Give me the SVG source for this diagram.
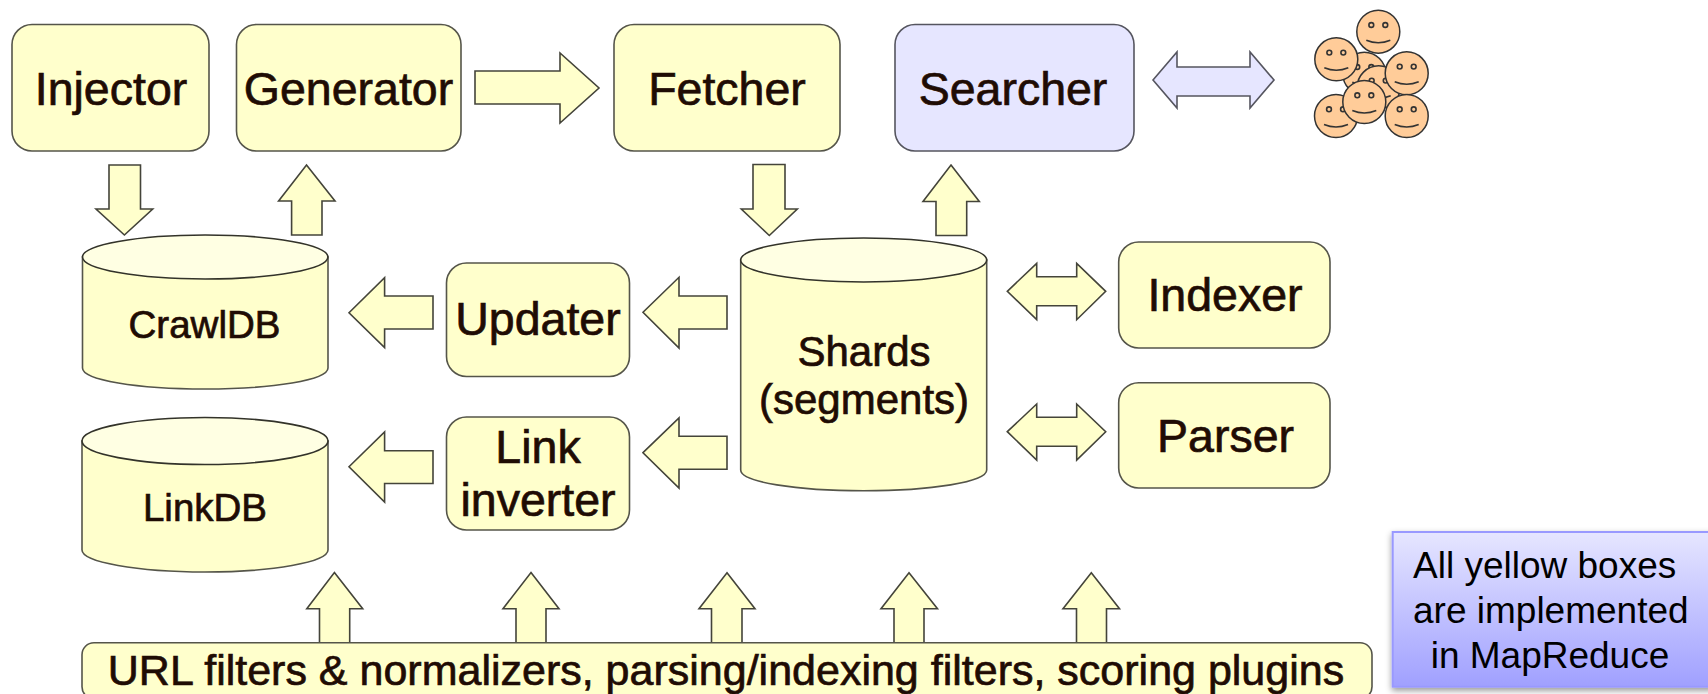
<svg xmlns="http://www.w3.org/2000/svg" xmlns:xlink="http://www.w3.org/1999/xlink" width="1708" height="694" viewBox="0 0 1708 694">
<style>
text{font-family:"Liberation Sans",Arial,sans-serif;fill:#1f0c04;stroke:#1f0c04;stroke-width:0.7;text-anchor:middle}
.t46{font-size:46.5px}
.t42{font-size:42px}
.t38{font-size:38.5px}
.box{fill:#ffffcc;stroke:#55554a;stroke-width:1.6}
.blue{fill:#e6e6ff;stroke:#55555f;stroke-width:1.6}
.top{fill:#ffffe3;stroke:#33332a;stroke-width:1.6}
.arr{fill:#ffffcc;stroke:#44443a;stroke-width:1.6;stroke-linejoin:miter}
.note{font-size:37px;fill:#000;stroke:none;text-anchor:start}
.face{fill:#ffcc99;stroke:#333;stroke-width:1.5}
.eye{fill:#ffcc99;stroke:#333;stroke-width:1.6}
.smile{fill:none;stroke:#333;stroke-width:1.5}
</style>
<defs>
<linearGradient id="noteFill" x1="0" y1="0" x2="0" y2="1"><stop offset="0" stop-color="#e6e6ff"/><stop offset="1" stop-color="#a0a0ff"/></linearGradient>
<filter id="shadow" x="-10%" y="-10%" width="120%" height="125%"><feDropShadow dx="0" dy="3" stdDeviation="3" flood-color="#000" flood-opacity="0.4"/></filter>
<g id="smiley">
<circle class="face" r="21.5"/>
<circle class="eye" cx="-7" cy="-6.7" r="2.4"/>
<circle class="eye" cx="7" cy="-6.7" r="2.4"/>
<path class="smile" d="M-12 8.5Q0 13.5 12 8.5"/>
</g>
</defs>

<g id="connectors">
<polygon class="arr" points="475,71 560,71 560,53 599,88 560,123 560,104 475,104"/>
<polygon class="arr" style="fill:#e6e6ff;stroke:#55555f" points="1153,80 1177,52 1177,67 1250,67 1250,52 1274,80 1250,108 1250,96 1177,96 1177,108"/>
<polygon class="arr" points="109,165 140.5,165 140.5,209 152.7,209 124.4,235 96,209 109,209"/>
<polygon class="arr" points="306.5,165 335,201 322,201 322,235 291.6,235 291.6,201 278.6,201"/>
<polygon class="arr" points="753,164.5 785,164.5 785,209 797.3,209 769.3,235.5 741.3,209 753,209"/>
<polygon class="arr" points="951,165 979.3,201.5 966.7,201.5 966.7,235.5 936,235.5 936,201.5 923,201.5"/>
<polygon class="arr" points="349,312.7 384.6,277.7 384.6,296 433,296 433,329 384.6,329 384.6,347.5"/>
<polygon class="arr" points="349,466.7 384.6,432 384.6,450.7 433,450.7 433,483.5 384.6,483.5 384.6,502"/>
<polygon class="arr" points="643,312.3 679,277.3 679,296 727,296 727,329 679,329 679,348"/>
<polygon class="arr" points="643,452.7 679,418 679,436.3 727,436.3 727,469.3 679,469.3 679,488"/>
<polygon class="arr" points="1007.3,291.3 1036.7,263.3 1036.7,276.7 1076.7,276.7 1076.7,263.3 1105.7,291.3 1076.7,319.7 1076.7,305.7 1036.7,305.7 1036.7,319.7"/>
<polygon class="arr" points="1007.3,431.7 1036.7,404 1036.7,417.3 1076.7,417.3 1076.7,404 1105.7,431.7 1076.7,460 1076.7,446.3 1036.7,446.3 1036.7,460"/>
<polygon class="arr" points="334.4,572.5 362.7,608.7 349.7,608.7 349.7,643 319.5,643 319.5,608.7 306.8,608.7"/>
<polygon class="arr" points="531,572.5 559,608.7 546,608.7 546,643 516,643 516,608.7 503,608.7"/>
<polygon class="arr" points="727,572.7 755,608.7 742,608.7 742,643 711.5,643 711.5,608.7 699,608.7"/>
<polygon class="arr" points="909,572.7 937.5,608.7 924,608.7 924,643 894,643 894,608.7 881,608.7"/>
<polygon class="arr" points="1091.3,572.7 1119.5,608.7 1106.5,608.7 1106.5,643 1076.5,643 1076.5,608.7 1063,608.7"/>
</g>

<g id="injector"><rect class="box" x="12" y="24.5" width="197" height="126.5" rx="20"/><text class="t46" x="111" y="104.7">Injector</text></g>
<g id="generator"><rect class="box" x="236.5" y="24.5" width="224.5" height="126.5" rx="20"/><text class="t46" x="348.5" y="104.7">Generator</text></g>
<g id="fetcher"><rect class="box" x="614" y="24.5" width="226" height="126.5" rx="20"/><text class="t46" x="727" y="104.7">Fetcher</text></g>
<g id="searcher"><rect class="blue" x="895" y="24.5" width="239" height="126.5" rx="20"/><text class="t46" x="1013" y="104.7">Searcher</text></g>

<g id="users">
<use xlink:href="#smiley" href="#smiley" x="1364.3" y="73.7"/>
<use xlink:href="#smiley" href="#smiley" x="1378.7" y="87.3"/>
<use xlink:href="#smiley" href="#smiley" x="1378.3" y="31.7"/>
<use xlink:href="#smiley" href="#smiley" x="1336.3" y="59.3"/>
<use xlink:href="#smiley" href="#smiley" x="1406.7" y="73.3"/>
<use xlink:href="#smiley" href="#smiley" x="1336" y="116"/>
<use xlink:href="#smiley" href="#smiley" x="1406.7" y="116"/>
<use xlink:href="#smiley" href="#smiley" x="1364.3" y="102"/>
</g>

<g id="crawldb"><path class="box" d="M82.5 257V368C82.5 380 137 389 205 389S328 380 328 368V257Z"/><ellipse class="top" cx="205.2" cy="257" rx="122.7" ry="22"/><text class="t38" x="204.5" y="338">CrawlDB</text></g>
<g id="linkdb"><path class="box" d="M82 441V550C82 562 137 572 205 572S328 562 328 550V441Z"/><ellipse class="top" cx="205" cy="441" rx="123" ry="23.5"/><text class="t38" x="205" y="520.7">LinkDB</text></g>
<g id="shards"><path class="box" d="M740.7 260V470C740.7 482 796 490.7 863.7 490.7S986.7 482 986.7 470V260Z"/><ellipse class="top" cx="863.7" cy="260" rx="123" ry="22"/><text class="t42" x="864" y="366">Shards</text><text class="t42" x="864" y="414">(segments)</text></g>

<g id="updater"><rect class="box" x="446.5" y="263" width="183" height="113.5" rx="20"/><text class="t46" x="538" y="335">Updater</text></g>
<g id="linkinverter"><rect class="box" x="446.5" y="417" width="183" height="113" rx="20"/><text class="t46" x="538" y="463">Link</text><text class="t46" x="538" y="516">inverter</text></g>
<g id="indexer"><rect class="box" x="1118.7" y="242" width="211.3" height="106" rx="20"/><text class="t46" x="1225" y="311">Indexer</text></g>
<g id="parser"><rect class="box" x="1118.7" y="382.7" width="211.3" height="105.3" rx="20"/><text class="t46" x="1225.5" y="451.7">Parser</text></g>
<g id="filters"><rect class="box" x="82" y="642.7" width="1290" height="56" rx="12"/><text style="font-size:43px" x="726" y="685">URL filters &amp; normalizers, parsing/indexing filters, scoring plugins</text></g>

<g id="note"><rect x="1392.7" y="532" width="320" height="154.7" fill="url(#noteFill)" stroke="#9999ff" stroke-width="2" filter="url(#shadow)"/>
<text class="note" x="1413" y="578">All yellow boxes</text><text class="note" x="1413" y="623">are implemented</text><text class="note" x="1430.7" y="668">in MapReduce</text></g>
</svg>
